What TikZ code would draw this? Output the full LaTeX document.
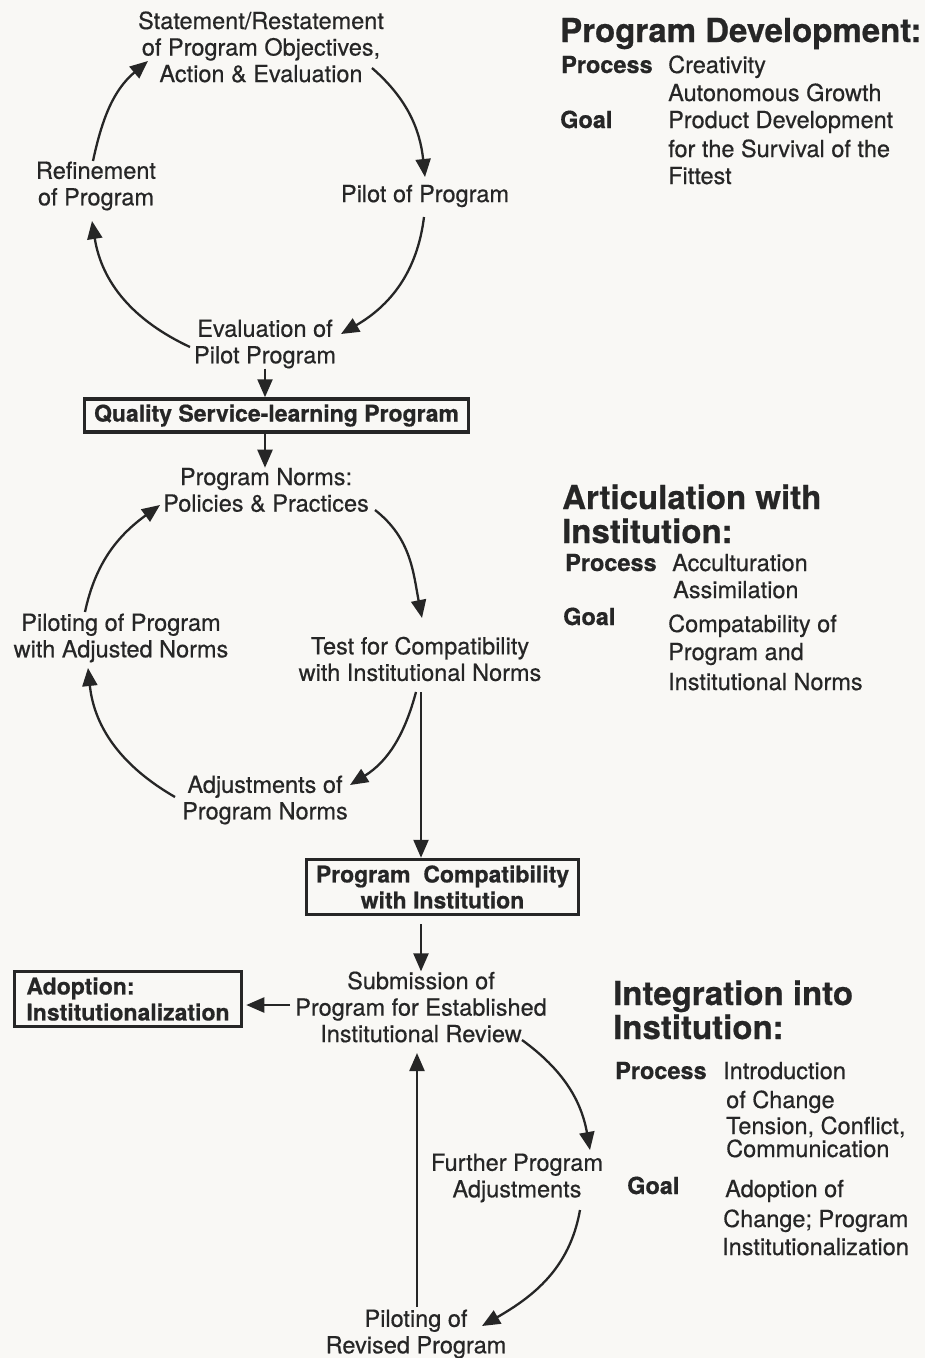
\documentclass[tikz,border=0pt]{standalone}
\usepackage{fontspec}
\setmainfont{TeX Gyre Heros}[UprightFeatures={FakeBold=0.5},BoldFeatures={FakeBold=0.6}]
\usetikzlibrary{arrows.meta}
\definecolor{ink}{HTML}{262626}
\definecolor{paper}{HTML}{F9F8F5}
\begin{document}
\begin{tikzpicture}[x=1pt,y=1pt,
 every node/.style={font=\fontsize{23.5}{26.5}\selectfont, text=ink, inner sep=0pt},
 lbl/.style={align=center},
 bx/.style={draw=ink, line width=3.5pt, font=\bfseries\fontsize{23}{26}\selectfont, align=center},
 arr/.style={draw=ink, line width=2.3pt, -{Triangle[length=18pt,width=15pt]}},
 hd/.style={anchor=base west, font=\bfseries\fontsize{33}{33}\selectfont},
 key/.style={anchor=base west, font=\bfseries\fontsize{23.5}{26.5}\selectfont},
 val/.style={anchor=base west},
]
\fill[paper] (0,0) rectangle (925,-1358);
\useasboundingbox (0,0) rectangle (925,-1358);

% ---- top cycle
\node[lbl] (stm) at (261,-47) {Statement/Restatement\\of Program Objectives,\\Action \& Evaluation};
\node (pilot) at (425,-196) {Pilot of Program};
\node[lbl] (refine) at (96,-186) {Refinement\\of Program};
\node[lbl] (eval) at (265,-344) {Evaluation of\\Pilot Program};
\node[bx, minimum width=384, minimum height=33] (qsl) at (276.5,-415.5) {Quality Service-learning Program};

\draw[arr] ([shift={(111,-21)}]stm.center) to[out=-41,in=96] ([shift={(0,19)}]pilot.center);
\draw[arr] ([shift={(-1,-21)}]pilot.center) to[out=-97,in=30] ([shift={(76,10)}]eval.center);
\draw[arr] ([shift={(-75,-3)}]eval.center) to[out=155,in=-81] ([shift={(-4,-35)}]refine.center);
\draw[arr] ([shift={(-3,25)}]refine.center) to[out=78,in=-140] ([shift={(-113,-14)}]stm.center);
\draw[arr] (eval.south) -- (eval.south |- qsl.north);

% ---- middle cycle
\node[lbl] (norms) at (266,-490) {Program Norms:\\Policies \& Practices};
\node[lbl] (test) at (420,-659) {Test for Compatibility\\with Institutional Norms};
\node[lbl] (adj) at (265,-800) {Adjustments of\\Program Norms};
\node[lbl] (padj) at (121,-638) {Piloting of Program\\with Adjusted Norms};
\node[bx, minimum width=272, minimum height=55] (compat) at (442.5,-887) {Program\ \ Compatibility\\with Institution};

\draw[arr] (qsl.south -| eval.south) -- (eval.south |- norms.north);
\draw[arr] ([shift={(109,-20)}]norms.center) to[out=-38,in=101] ([shift={(2,41)}]test.center);
\draw[arr] ([shift={(-4,-33)}]test.center) to[out=-105,in=32] ([shift={(85,15)}]adj.center);
\draw[arr] ([shift={(-90,3)}]adj.center) to[out=150,in=-84] ([shift={(-33,-30)}]padj.center);
\draw[arr] ([shift={(-36,26)}]padj.center) to[out=78,in=-144] ([shift={(-106,-15)}]norms.center);
\draw[arr] ([shift={(1,-33)}]test.center) -- ([shift={(1,0)}]test.center |- compat.north);

% ---- bottom cycle
\node[lbl] (submit) at (421,-1007) {Submission of\\Program for Established\\Institutional Review};
\node[bx, align=left, minimum width=227, minimum height=55] (adopt) at (128,-999) {Adoption:\\Institutionalization};
\node[lbl] (further) at (517,-1178) {Further Program\\Adjustments};
\node[lbl] (revised) at (416,-1334) {Piloting of\\Revised Program};

\draw[arr] ([yshift=-8]compat.south -| submit.north) -- (submit.north);
\draw[arr] ([shift={(-131,2)}]submit.center) -- ([shift={(3,-6)}]adopt.east);
\draw[arr] ([shift={(101,-33)}]submit.center) to[out=-36,in=100] ([shift={(73,28)}]further.center);
\draw[arr] ([shift={(63,-32)}]further.center) to[out=-100,in=30] ([shift={(66,8)}]revised.center);
\draw[arr] ([shift={(1,27)}]revised.center) -- ([shift={(-4,-46)}]submit.center);

% ---- side texts
\node[hd] (h1) at (560,-42) {Program Development:};
\node[key] (p1) at (561,-73) {Process};
\node[val] (v1a) at (668,-73) {Creativity};
\node[val] (v1b) at (668,-101) {Autonomous Growth};
\node[key] (g1) at (560,-128) {Goal};
\node[val] (v1c) at (668,-128) {Product Development};
\node[val] (v1d) at (668,-157) {for the Survival of the};
\node[val] (v1e) at (668,-184) {Fittest};

\node[hd] (h2a) at (562,-509) {Articulation with};
\node[hd] (h2b) at (562,-543) {Institution:};
\node[key] (p2) at (565,-571) {Process};
\node[val] (v2a) at (672,-571) {Acculturation};
\node[val] (v2b) at (673,-598) {Assimilation};
\node[key] (g2) at (563,-625) {Goal};
\node[val] (v2c) at (668,-632) {Compatability of};
\node[val] (v2d) at (668,-660) {Program and};
\node[val] (v2e) at (668,-690) {Institutional Norms};

\node[hd] (h3a) at (613,-1005) {Integration into};
\node[hd] (h3b) at (613,-1039) {Institution:};
\node[key] (p3) at (615,-1079) {Process};
\node[val] (v3a) at (723,-1079) {Introduction};
\node[val] (v3b) at (726,-1108) {of Change};
\node[val] (v3c) at (726,-1134) {Tension, Conflict,};
\node[val] (v3d) at (726,-1157) {Communication};
\node[key] (g3) at (627,-1194) {Goal};
\node[val] (v3e) at (725,-1197) {Adoption of};
\node[val] (v3f) at (723,-1227) {Change; Program};
\node[val] (v3g) at (722,-1255) {Institutionalization};
\end{tikzpicture}
\end{document}
